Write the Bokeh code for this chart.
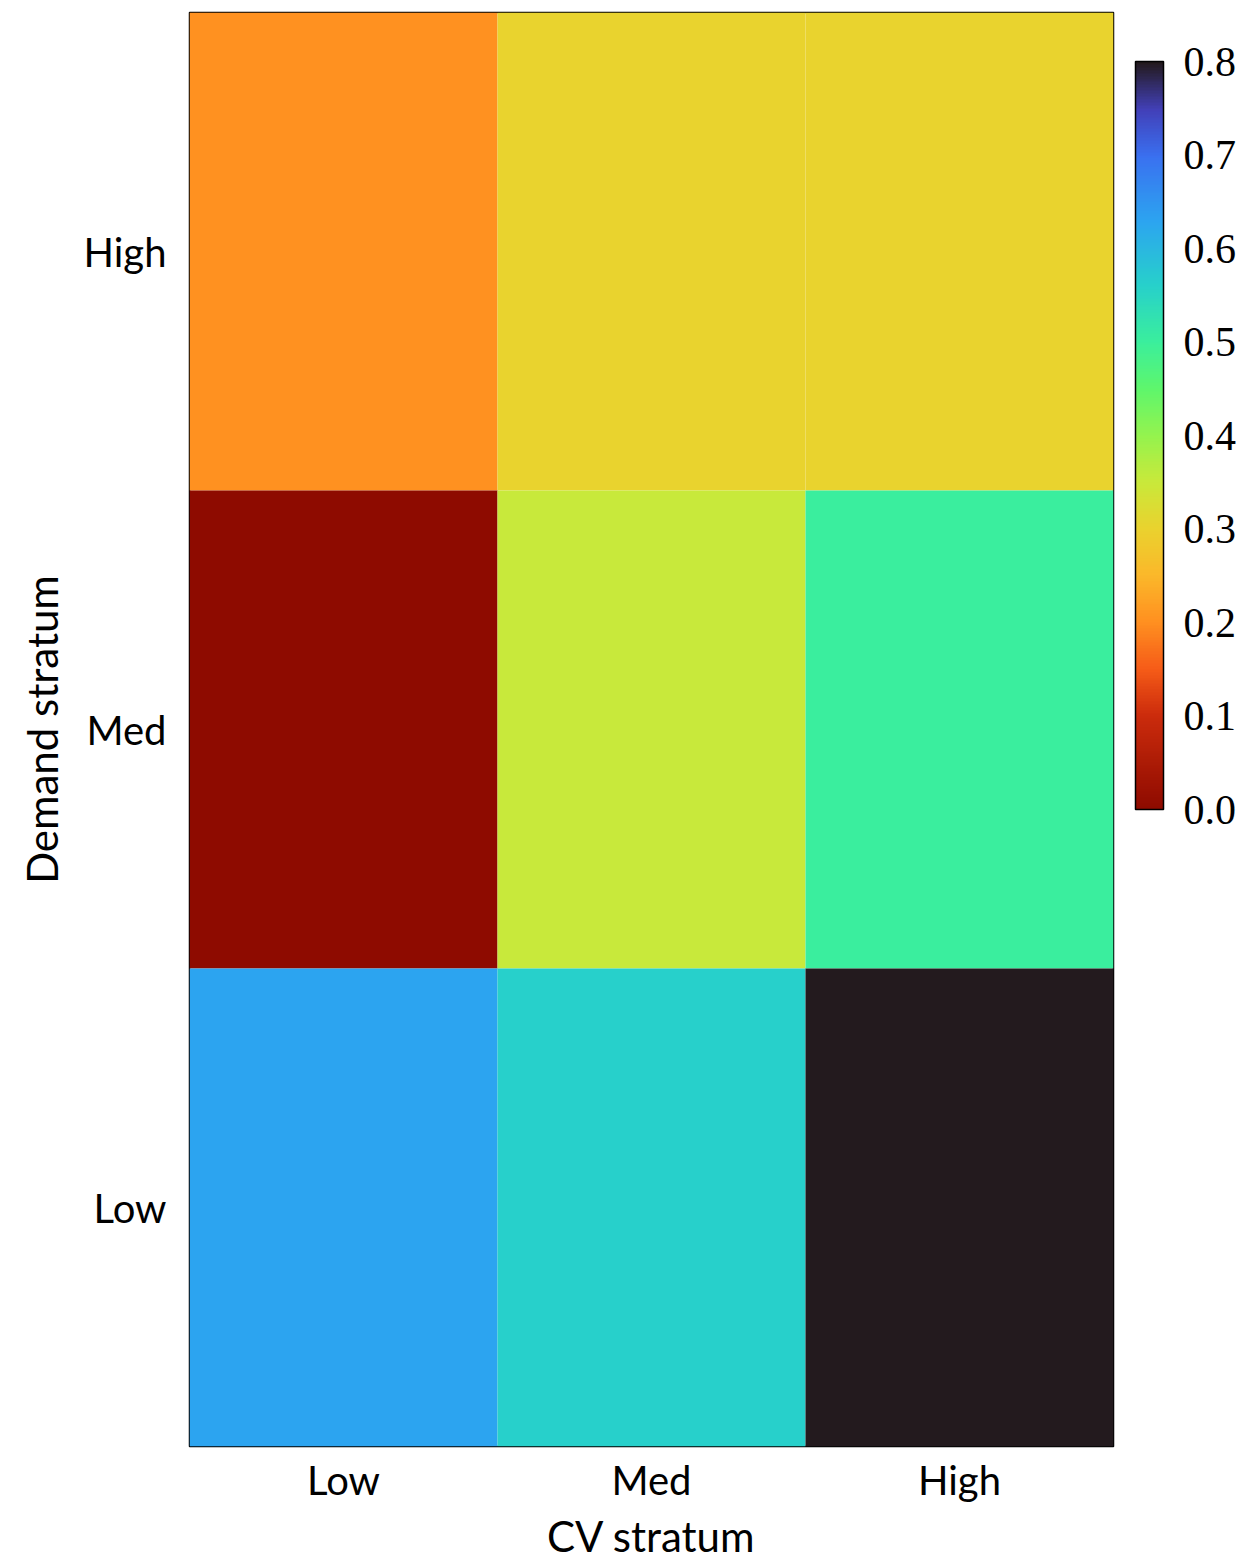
from bokeh.plotting import figure
from bokeh.models import ColumnDataSource, LinearColorMapper, ColorBar, FixedTicker, FactorRange, PrintfTickFormatter
from bokeh.embed import file_html
from bokeh.resources import INLINE

# ---- data ----
cv_strata = ["Low", "Med", "High"]
demand_strata = ["Low", "Med", "High"]
cell_cv = ["Low", "Med", "High", "Low", "Med", "High", "Low", "Med", "High"]
cell_demand = ["High", "High", "High", "Med", "Med", "Med", "Low", "Low", "Low"]
cell_value = [0.20, 0.30, 0.30, 0.00, 0.35, 0.50, 0.63, 0.56, 0.80]
cbar_ticks = [0.0, 0.1, 0.2, 0.3, 0.4, 0.5, 0.6, 0.7, 0.8]

# ---- colormap (anchors) ----
anchor_v = [0.0, 0.1, 0.15, 0.2, 0.25, 0.3, 0.35, 0.4, 0.45, 0.5, 0.56, 0.63, 0.7, 0.75, 0.8]
anchor_c = ["#8e0b00", "#cc2c0c", "#f65c18", "#ff9020", "#fbb82a", "#ead22e", "#c9e93a",
            "#94f34e", "#5ef66c", "#3bef9c", "#27d1ca", "#2ca4f0", "#3a70f0", "#4240b8", "#231a1e"]

def hex2rgb(h):
    return tuple(int(h[i:i + 2], 16) for i in (1, 3, 5))

def build_palette(n=256):
    pal = []
    for k in range(n):
        v = 0.8 * k / (n - 1)
        for i in range(len(anchor_v) - 1):
            if anchor_v[i] <= v <= anchor_v[i + 1]:
                t = (v - anchor_v[i]) / (anchor_v[i + 1] - anchor_v[i])
                a, b = hex2rgb(anchor_c[i]), hex2rgb(anchor_c[i + 1])
                c = tuple(round(a[j] + (b[j] - a[j]) * t) for j in range(3))
                pal.append("#%02x%02x%02x" % c)
                break
    return pal

palette = build_palette()
mapper = LinearColorMapper(palette=palette, low=0.0, high=0.8)

src = ColumnDataSource(dict(cv=cell_cv, demand=cell_demand, value=cell_value))

p = figure(width=1239, height=1563, output_backend="svg", toolbar_location=None,
           x_range=FactorRange(*cv_strata), y_range=FactorRange(*demand_strata),
           min_border_left=189, min_border_top=12, min_border_right=0, min_border_bottom=0)

p.rect(x="cv", y="demand", width=1, height=1, source=src,
       fill_color={"field": "value", "transform": mapper}, line_color=None)

p.grid.visible = False
p.outline_line_color = "black"
p.outline_line_width = 1.5
p.background_fill_color = "white"

font = "Lato"
for ax in (p.xaxis[0], p.yaxis[0]):
    ax.axis_line_color = None
    ax.major_tick_line_color = None
    ax.minor_tick_line_color = None
    ax.major_label_text_font = font
    ax.major_label_text_font_size = "40px"
    ax.major_label_text_color = "black"
    ax.axis_label_text_font = font
    ax.axis_label_text_font_size = "42px"
    ax.axis_label_text_font_style = "normal"
    ax.axis_label_text_color = "black"

p.xaxis.axis_label = "CV stratum"
p.yaxis.axis_label = "Demand stratum"
p.xaxis.major_label_standoff = 3
p.yaxis.major_label_standoff = 17
p.xaxis.axis_label_standoff = 4
p.yaxis.axis_label_standoff = 14

cb = ColorBar(color_mapper=mapper, width=28, height=748, location=(22, 637),
              ticker=FixedTicker(ticks=cbar_ticks),
              formatter=PrintfTickFormatter(format="%.1f"),
              major_label_text_font="Liberation Serif", major_label_text_font_size="42px",
              major_label_text_color="black",
              major_tick_line_color=None, minor_tick_line_color=None,
              bar_line_color="black", bar_line_width=1.5,
              label_standoff=20, padding=0, margin=0,
              background_fill_color=None, border_line_color=None)
p.add_layout(cb, "right")

open("out.html", "w").write(file_html(p, INLINE))
